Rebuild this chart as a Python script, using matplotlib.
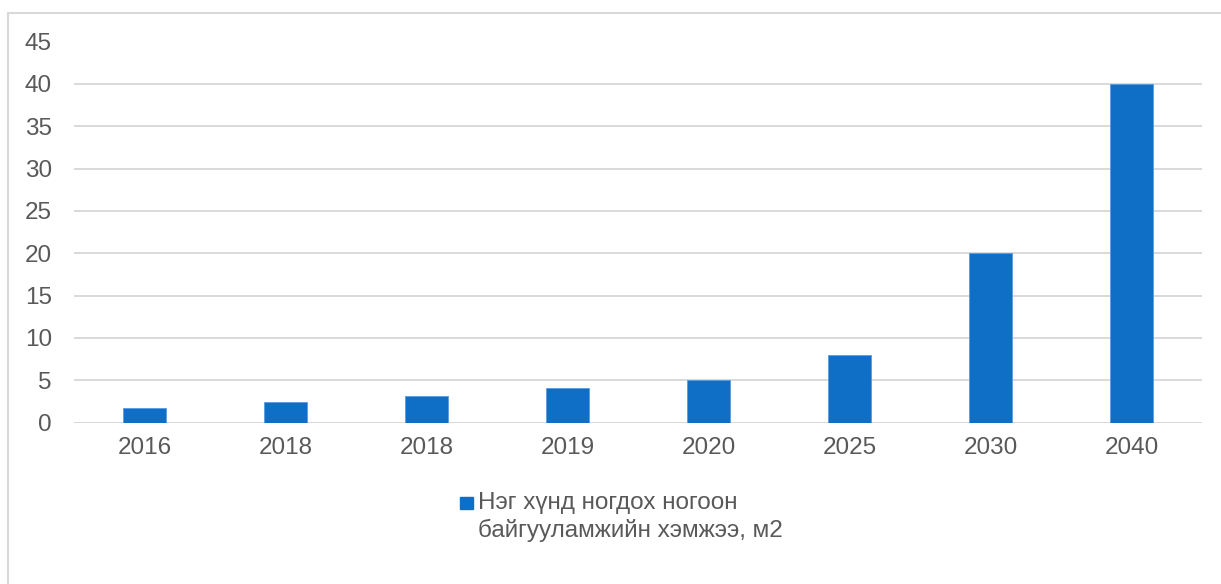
import matplotlib
matplotlib.use("Agg")
import matplotlib.pyplot as plt
from matplotlib.patches import Rectangle

# data
years = ["2016", "2018", "2018", "2019", "2020", "2025", "2030", "2040"]
area_per_person = [1.7, 2.4, 3.2, 4.1, 5.0, 8.0, 20.0, 40.0]
series_label = "Нэг хүнд ногдох ногоон\nбайгууламжийн хэмжээ, м2"
y_ticks = [0, 5, 10, 15, 20, 25, 30, 35, 40, 45]

bar_color = "#0F6FC6"
grid_color = "#d9d9d9"
text_color = "#595959"

plt.rcParams["font.family"] = ["Liberation Sans", "DejaVu Sans"]

W, H = 1221, 584
fig = plt.figure(figsize=(W / 100, H / 100), dpi=100)

# outer chart frame (only left/top edges visible in the reference)
frame = Rectangle((8 / W, -0.1), 1.2, 1 - 13 / H + 0.1, transform=fig.transFigure,
                  fill=False, edgecolor=grid_color, linewidth=1.5)
fig.patches.append(frame)

ax = fig.add_axes([74 / W, 1 - 422.7 / H, (1202 - 74) / W, (422.7 - 41.5) / H])

x = range(len(years))
ax.bar(x, area_per_person, width=0.31, color=bar_color, edgecolor="#5a9be0",
       linewidth=0.6, zorder=3)

ax.set_xlim(-0.5, len(years) - 0.5)
ax.set_ylim(0, 45)
ax.set_yticks(y_ticks)
ax.set_xticks(list(x))
ax.set_xticklabels(years)

for s in ax.spines.values():
    s.set_visible(False)
ax.yaxis.grid(True, color=grid_color, linewidth=1.4, zorder=0)
ax.tick_params(axis="both", length=0, labelsize=17.5, labelcolor=text_color)
ax.tick_params(axis="y", pad=16)
ax.tick_params(axis="x", pad=10)

# legend drawn by hand: square marker + two-line label
fig.patches.append(Rectangle((460 / W, 1 - 509 / H), 13 / W, 12 / H,
                             transform=fig.transFigure, color=bar_color))
fig.text(478 / W, 1 - 492 / H, series_label, ha="left", va="top",
         fontsize=17.5, color=text_color, linespacing=1.25)

fig.savefig("out.png", dpi=100)
